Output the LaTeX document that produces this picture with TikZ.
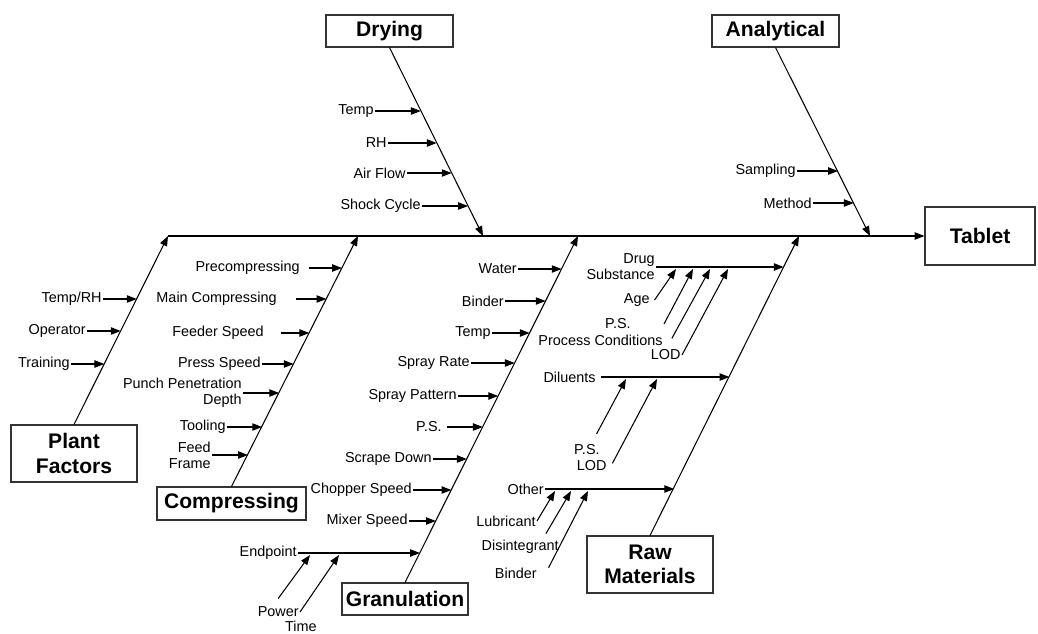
\documentclass[tikz,border=0pt]{standalone}
\usepackage{fontspec}
\setmainfont{Liberation Sans}
\usepackage{tikz}
\usetikzlibrary{arrows.meta}
\usetikzlibrary{calc}
\tikzset{
    box/.style = {rectangle, draw=black!80, line width=0.6pt, fill=white, align=center, inner sep=1pt, font=\fontsize{12}{13.8}\selectfont\bfseries},
    bigbox/.style = {box, minimum width=2.52cm, minimum height=1.14cm},
    smallbox/.style = {box, minimum width=2.54cm, minimum height=0.64cm},
}

\begin{document}
\begin{tikzpicture}[
	x=0.02cm, y=-0.02cm,
	line width=0.6pt,
	font=\fontsize{8.2}{9}\selectfont
]
\tikzset{
    lbl/.style = {anchor=east, align=right, inner sep=0.5pt},
    arr/.style = {-{Triangle[length=5.6pt,width=4.2pt]}},
}
\useasboundingbox (0,0) rectangle (1038,633);
% category boxes
\node[smallbox] at (389.5,31) (dry) {Drying};
\node[smallbox] at (775.5,31) (ana) {Analytical};
\node[box, minimum width=2.2cm, minimum height=1.16cm] at (980,236) (tab) {Tablet};
\node[bigbox] at (74,453.5) (plant) {Plant\\Factors};
\node[box, minimum width=2.98cm, minimum height=0.66cm] at (231.5,503.5) (comp) {Compressing};
\node[smallbox, minimum width=2.52cm] at (405,599) (gran) {Granulation};
\node[bigbox] at (650,564.5) (raw) {Raw\\Materials};
%
\coordinate (pft) at (168,236);
\coordinate (cmt) at (358,236);
\coordinate (dryt) at (483,236);
\coordinate (grt) at (578,236);
\coordinate (rawt) at (799,236);
\coordinate (anat) at (870,236);
%
\draw[arr] (pft) -- (tab.west);
\draw[arr] (plant.north) -- (pft);
\draw[arr] (comp.north) -- (cmt);
\draw[arr] (gran.north) -- (grt);
\draw[arr] (raw.north) -- (rawt);
\draw[arr] (dry.south) -- (dryt);
\draw[arr] (ana.south) -- (anat);
% plant factors
\node[lbl] at (103,299) (trh) {Temp/RH};
\node[lbl] at (87,331) (oper) {Operator};
\node[lbl] at (71,364) (train) {Training};
\coordinate (p1) at (136.7,299);
\coordinate (p2) at (120.7,331);
\coordinate (p3) at (104.3,364);
\draw[arr] (trh) -- (p1);
\draw[arr] (oper) -- (p2);
\draw[arr] (train) -- (p3);
% compressing
\node[lbl] at (301,268) (precomp) {Precompressing};
\node[lbl] at (278,299) (maincomp) {Main Compressing};
\node[lbl] at (265,333) (feeder) {Feeder Speed};
\node[lbl] at (262,364) (press) {Press Speed};
\node[lbl] at (243,393) (punch) {Punch Penetration\\Depth};
\node[lbl] at (227,427) (tool) {Tooling};
\node[lbl] at (212,455) (feed) {Feed\\Frame};
\coordinate (c1) at (342,268);
\coordinate (c2) at (326.4,299);
\coordinate (c3) at (309.3,333);
\coordinate (c4) at (293.7,364);
\coordinate (c5) at (279.2,393);
\coordinate (c6) at (262.1,427);
\coordinate (c7) at (248,455);
\draw[arr, shorten <=4.5pt] (precomp) -- (c1);
\draw[arr, shorten <=10pt] (maincomp) -- (c2);
\draw[arr, shorten <=9pt] (feeder) -- (c3);
\draw[arr] (press) -- (c4);
\draw[arr] (punch) -- (c5);
\draw[arr] (tool) -- (c6);
\draw[arr] (feed) -- (c7);
% drying
\node[lbl] at (375,111) (dtemp) {Temp};
\node[lbl] at (388,143) (drh) {RH};
\node[lbl] at (407,173) (dair) {Air Flow};
\node[lbl] at (422,206) (dshock) {Shock Cycle};
\coordinate (d1) at (420.8,111);
\coordinate (d2) at (436.7,143);
\coordinate (d3) at (451.6,173);
\coordinate (d4) at (468,206);
\draw[arr] (dtemp) -- (d1);
\draw[arr] (drh) -- (d2);
\draw[arr] (dair) -- (d3);
\draw[arr] (dshock) -- (d4);
% analytical
\node[lbl] at (797,171) (samp) {Sampling};
\node[lbl] at (813,203) (meth) {Method};
\coordinate (n1) at (838,171);
\coordinate (n2) at (853.8,203);
\draw[arr] (samp) -- (n1);
\draw[arr] (meth) -- (n2);
% granulation
\node[lbl] at (518,269) (water) {Water};
\node[lbl] at (505,301) (gbind) {Binder};
\node[lbl] at (492,333) (gtemp) {Temp};
\node[lbl] at (471,363) (srate) {Spray Rate};
\node[lbl] at (458,396) (spat) {Spray Pattern};
\node[lbl] at (443,427) (gps) {P.S.};
\node[lbl] at (433,459) (scrape) {Scrape Down};
\node[lbl] at (413,490) (chop) {Chopper Speed};
\node[lbl] at (409,521) (mixer) {Mixer Speed};
\node[lbl] at (298,553) (endp) {Endpoint};
\node[lbl] at (300,612) (power) {Power};
\node[lbl] at (318,626) (time) {Time};
\coordinate (g1) at (561.6,269);
\coordinate (g2) at (545.6,301);
\coordinate (g3) at (529.7,333);
\coordinate (g4) at (514.7,363);
\coordinate (g5) at (498.2,396);
\coordinate (g6) at (482.8,427);
\coordinate (g7) at (466.8,459);
\coordinate (g8) at (451.4,490);
\coordinate (g9) at (435.9,521);
\coordinate (g10) at (420,553);
\coordinate (e1) at (310,555);
\coordinate (e2) at (339,555);
\draw[arr] (water) -- (g1);
\draw[arr] (gbind) -- (g2);
\draw[arr] (gtemp) -- (g3);
\draw[arr] (srate) -- (g4);
\draw[arr] (spat) -- (g5);
\draw[arr, shorten <=2pt] (gps) -- (g6);
\draw[arr] (scrape) -- (g7);
\draw[arr] (chop) -- (g8);
\draw[arr] (mixer) -- (g9);
\draw[arr] (endp) -- (g10);
\draw[arr] ([yshift=4pt]power.north) -- (e1);
\draw[arr] (power.east) -- (e2);
% raw materials
\node[lbl] at (656,267) (drug) {Drug\\Substance};
\node[lbl] at (651,300) (age) {Age};
\node[lbl] at (632,324) (ps1) {P.S.};
\node[lbl] at (664,340) (pc) {Process Conditions};
\node[lbl] at (682,355) (lod1) {LOD};
\node[lbl] at (597,377) (dil) {Diluents};
\node[lbl] at (601,450) (ps2) {P.S.};
\node[lbl] at (608,466) (lod2) {LOD};
\node[lbl] at (545,489) (other) {Other};
\node[lbl] at (537,521) (lub) {Lubricant};
\node[lbl] at (560,547) (disint) {Disintegrant};
\node[lbl] at (538,573) (rbind) {Binder};
\coordinate (r1) at (783.7,267);
\coordinate (r2) at (729.4,377);
\coordinate (r3) at (674.2,489);
\coordinate (a1) at (676,269);
\coordinate (a2) at (693,269);
\coordinate (a3) at (710,269);
\coordinate (a4) at (728,269);
\coordinate (b1) at (626,379);
\coordinate (b2) at (657,379);
\coordinate (o1) at (555,491);
\coordinate (o2) at (571,491);
\coordinate (o3) at (588,491);
\draw[arr] (drug) -- (r1);
\draw[arr, shorten <=2.5pt] (dil) -- (r2);
\draw[arr] (other) -- (r3);
\draw[arr] ([xshift=2pt]age.east) -- (a1);
\draw[arr] (pc.east |- ps1) -- (a2);
\draw[arr] ([xshift=4.5pt,yshift=1pt]pc.east) -- (a3);
\draw[arr] (lod1.east) -- (a4);
\draw[arr] ([xshift=-2.5pt,yshift=5.5pt]ps2.north east) -- (b1);
\draw[arr] ([xshift=2.5pt,yshift=1.5pt]lod2.east) -- (b2);
\draw[arr] (lub.east) -- (o1);
\draw[arr] ([xshift=-8pt,yshift=3pt]disint.north east) -- (o2);
\draw[arr] ([xshift=6pt,yshift=3pt]rbind.east) -- (o3);
\end{tikzpicture}
\end{document}
